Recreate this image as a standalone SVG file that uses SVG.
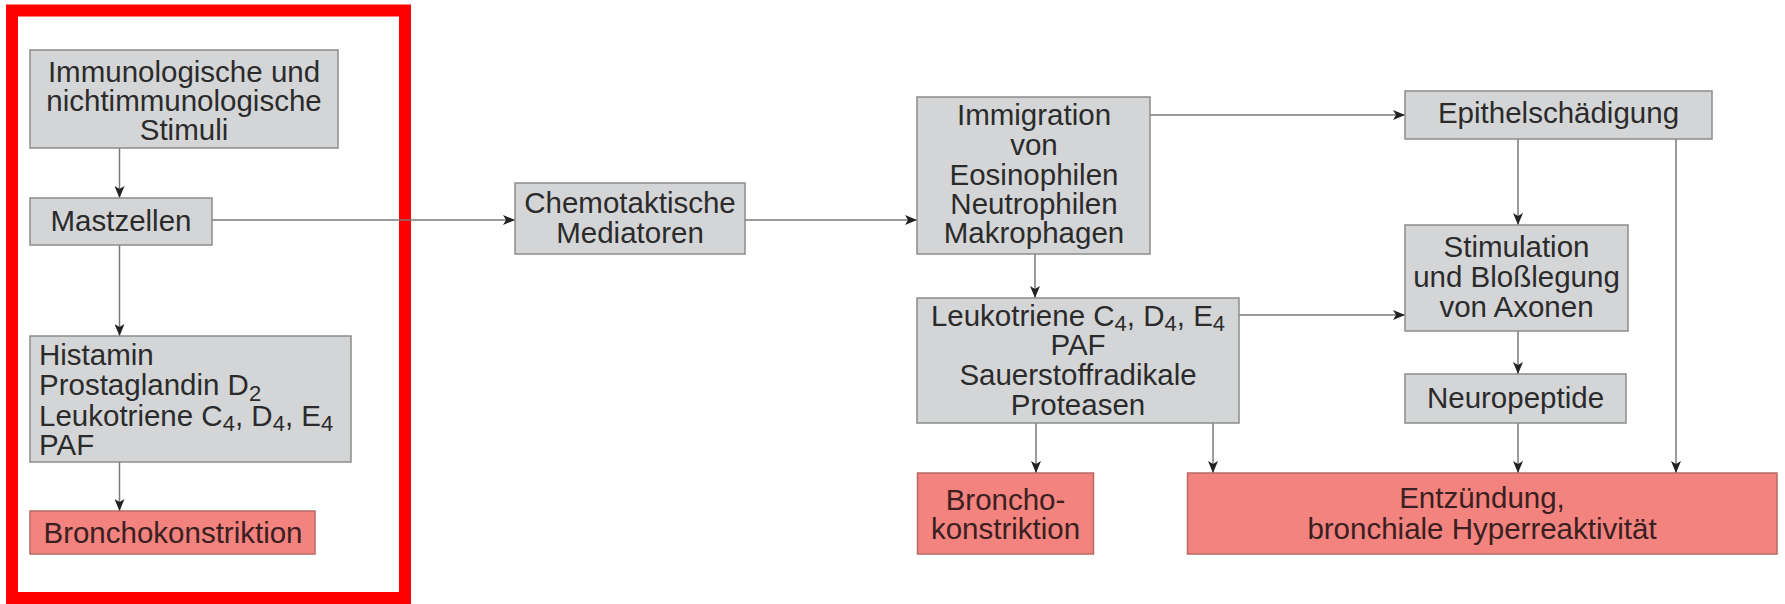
<svg xmlns="http://www.w3.org/2000/svg" width="1785" height="604" viewBox="0 0 1785 604">
<style>
.g{fill:#d4d5d7;stroke:#8c8c8c;stroke-width:1.5}
.r{fill:#f2837f;stroke:#b86a66;stroke-width:1.5}
text{font-family:"Liberation Sans",Arial,sans-serif;font-size:29.5px;fill:#2b2b2b}
.c{text-anchor:middle}
.rt{fill:#3a2020}
.s{font-size:22px}
#connectors line{stroke:#7a7a7a;stroke-width:1.5;fill:none;marker-end:url(#ah)}
</style>
<defs>
<marker id="ah" markerUnits="userSpaceOnUse" markerWidth="12" markerHeight="10" refX="12" refY="5" orient="auto" viewBox="0 0 12 10">
<path d="M0,0 L12,5 L0,10 L3,5 z" fill="#222"/>
</marker>
</defs>
<rect width="1785" height="604" fill="#fff"/>
<rect x="12" y="10.5" width="393" height="587.5" fill="none" stroke="#ff0000" stroke-width="12"/>
<g id="connectors">
<line x1="119.5" y1="148" x2="119.5" y2="198"/>
<line x1="119.5" y1="245" x2="119.5" y2="336"/>
<line x1="119.5" y1="462" x2="119.5" y2="511"/>
<line x1="212" y1="220" x2="515" y2="220"/>
<line x1="745" y1="220" x2="917" y2="220"/>
<line x1="1150" y1="115" x2="1405" y2="115"/>
<line x1="1035" y1="254" x2="1035" y2="298"/>
<line x1="1239" y1="315" x2="1405" y2="315"/>
<line x1="1036" y1="423" x2="1036" y2="473"/>
<line x1="1213" y1="423" x2="1213" y2="473"/>
<line x1="1518" y1="139" x2="1518" y2="225"/>
<line x1="1676" y1="139" x2="1676" y2="473"/>
<line x1="1518" y1="331" x2="1518" y2="374"/>
<line x1="1518" y1="423" x2="1518" y2="473"/>
</g>
<g id="stimuli">
<rect class="g" x="30" y="50" width="308" height="98"/>
<text class="c" x="184" y="82">Immunologische und</text>
<text class="c" x="184" y="111">nichtimmunologische</text>
<text class="c" x="184" y="140">Stimuli</text>
</g>
<g id="mastzellen">
<rect class="g" x="30" y="198" width="182" height="47"/>
<text class="c" x="121" y="231">Mastzellen</text>
</g>
<g id="mediatoren1">
<rect class="g" x="30" y="336" width="321" height="126"/>
<text x="39" y="365">Histamin</text>
<text x="39" y="395">Prostaglandin D<tspan class="s" dy="6">2</tspan></text>
<text x="39" y="426">Leukotriene C<tspan class="s" dy="5">4</tspan><tspan dy="-5">, D</tspan><tspan class="s" dy="5">4</tspan><tspan dy="-5">, E</tspan><tspan class="s" dy="5">4</tspan></text>
<text x="39" y="455">PAF</text>
</g>
<g id="broncho1">
<rect class="r" x="30" y="511" width="285" height="43"/>
<text class="c rt" x="173" y="543">Bronchokonstriktion</text>
</g>
<g id="chemotaktisch">
<rect class="g" x="515" y="183" width="230" height="71"/>
<text class="c" x="630" y="213">Chemotaktische</text>
<text class="c" x="630" y="243">Mediatoren</text>
</g>
<g id="immigration">
<rect class="g" x="917" y="97" width="233" height="157"/>
<text class="c" x="1034" y="125">Immigration</text>
<text class="c" x="1034" y="155">von</text>
<text class="c" x="1034" y="185">Eosinophilen</text>
<text class="c" x="1034" y="214">Neutrophilen</text>
<text class="c" x="1034" y="243">Makrophagen</text>
</g>
<g id="leukotriene">
<rect class="g" x="917" y="298" width="322" height="125"/>
<text class="c" x="1078" y="326">Leukotriene C<tspan class="s" dy="5">4</tspan><tspan dy="-5">, D</tspan><tspan class="s" dy="5">4</tspan><tspan dy="-5">, E</tspan><tspan class="s" dy="5">4</tspan></text>
<text class="c" x="1078" y="355">PAF</text>
<text class="c" x="1078" y="385">Sauerstoffradikale</text>
<text class="c" x="1078" y="415">Proteasen</text>
</g>
<g id="broncho2">
<rect class="r" x="917.5" y="473" width="176" height="81"/>
<text class="c rt" x="1005.5" y="510">Broncho-</text>
<text class="c rt" x="1005.5" y="539">konstriktion</text>
</g>
<g id="epithel">
<rect class="g" x="1405" y="91" width="307" height="48"/>
<text class="c" x="1558.5" y="123">Epithelschädigung</text>
</g>
<g id="stimulation">
<rect class="g" x="1405" y="225" width="223" height="106"/>
<text class="c" x="1516.5" y="257">Stimulation</text>
<text class="c" x="1516.5" y="287">und Bloßlegung</text>
<text class="c" x="1516.5" y="317">von Axonen</text>
</g>
<g id="neuropeptide">
<rect class="g" x="1405" y="374" width="221" height="49"/>
<text class="c" x="1515.5" y="408">Neuropeptide</text>
</g>
<g id="entzuendung">
<rect class="r" x="1187.5" y="473" width="589.5" height="81"/>
<text class="c rt" x="1482" y="508">Entzündung,</text>
<text class="c rt" x="1482" y="539">bronchiale Hyperreaktivität</text>
</g>
</svg>
